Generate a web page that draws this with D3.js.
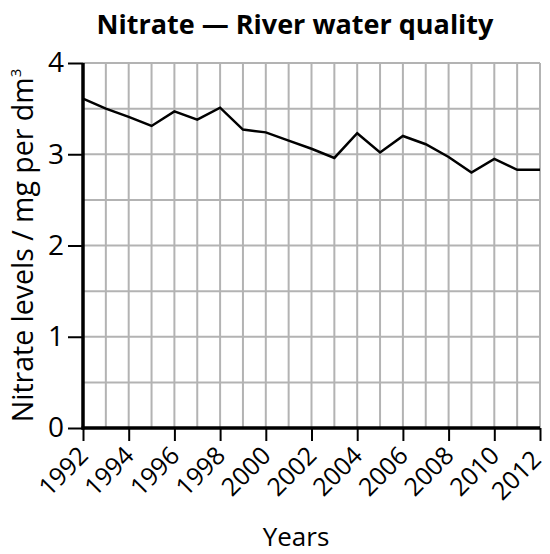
<!DOCTYPE html>
<html>
<head>
<meta charset="utf-8">
<script src="https://cdn.jsdelivr.net/npm/d3@7"></script>
<style>
  body { margin: 0; background: #fff; }
  svg { display: block; }
  text { font-family: "Open Sans", "Noto Sans", sans-serif; fill: #000; }
</style>
</head>
<body>
<svg id="chart" width="550" height="554"></svg>
<script>
const title = "Nitrate — River water quality";
const xLabel = "Years";
const yLabel = "Nitrate levels / mg per dm";
const years = [1992,1993,1994,1995,1996,1997,1998,1999,2000,2001,2002,2003,2004,2005,2006,2007,2008,2009,2010,2011,2012];
const nitrate = [3.61,3.50,3.41,3.31,3.47,3.38,3.51,3.27,3.24,3.15,3.06,2.96,3.23,3.02,3.20,3.11,2.97,2.80,2.95,2.83,2.83];
const yTicks = [0,1,2,3,4];
const yGrid = [0.5,1,1.5,2,2.5,3,3.5,4];
const xTicks = [1992,1994,1996,1998,2000,2002,2004,2006,2008,2010,2012];

const W = 550, H = 554;
const m = {left: 83, right: 10, top: 63, bottom: 126};
const svg = d3.select("#chart");

const x = d3.scaleLinear().domain([1992, 2012]).range([m.left, W - m.right]);
const y = d3.scaleLinear().domain([0, 4]).range([H - m.bottom, m.top]);

// grid
const grid = svg.append("g").attr("stroke", "#b3b3b3").attr("stroke-width", 2);
grid.selectAll("line.v").data(years.slice(1)).join("line")
  .attr("x1", d => x(d)).attr("x2", d => x(d))
  .attr("y1", y(0)).attr("y2", y(4));
grid.selectAll("line.h").data(yGrid).join("line")
  .attr("x1", x(1992)).attr("x2", x(2012))
  .attr("y1", d => y(d)).attr("y2", d => y(d));

// line
svg.append("path").datum(years.map((yr, i) => [yr, nitrate[i]]))
  .attr("fill", "none").attr("stroke", "#000").attr("stroke-width", 2.5)
  .attr("stroke-linejoin", "miter")
  .attr("d", d3.line().x(d => x(d[0])).y(d => y(d[1])));

// y axis
const yAxis = svg.append("g").attr("transform", `translate(${m.left},0)`)
  .call(d3.axisLeft(y).tickValues(yTicks).tickFormat(d3.format("d")).tickSize(15).tickPadding(4));
yAxis.select(".domain").remove();
yAxis.selectAll(".tick line").attr("stroke-width", 2);
yAxis.selectAll(".tick text").attr("font-size", 28).style("font-family", "'Open Sans', sans-serif");

// x axis
const xAxis = svg.append("g").attr("transform", `translate(0,${H - m.bottom})`)
  .call(d3.axisBottom(x).tickValues(xTicks).tickFormat(d3.format("d")).tickSize(13).tickPadding(2));
xAxis.select(".domain").remove();
xAxis.selectAll(".tick line").attr("stroke-width", 2);
xAxis.selectAll(".tick text")
  .attr("font-size", 25)
  .style("font-family", "'Open Sans', sans-serif")
  .attr("text-anchor", "end")
  .attr("x", 0).attr("y", 0)
  .attr("dy", "0.35em")
  .attr("transform", (d, i, n) => i === n.length - 1 ? "translate(-4,27) rotate(-45)" : "translate(0,23) rotate(-45)");

// axis lines
svg.append("line").attr("x1", x(1992)).attr("x2", x(1992)).attr("y1", y(4)).attr("y2", y(0) + 1.5)
  .attr("stroke", "#000").attr("stroke-width", 3.5);
svg.append("line").attr("x1", x(1992) - 1.5).attr("x2", x(2012)).attr("y1", y(0)).attr("y2", y(0))
  .attr("stroke", "#000").attr("stroke-width", 3.5);

// title
svg.append("text").attr("x", 295).attr("y", 34).attr("text-anchor", "middle")
  .attr("font-size", 27).attr("font-weight", "bold").text(title);

// x label
svg.append("text").attr("x", 296).attr("y", 546).attr("text-anchor", "middle")
  .attr("font-size", 26).text(xLabel);

// y label
const yl = svg.append("text")
  .attr("transform", `translate(33,${(y(0) + y(4)) / 2}) rotate(-90)`)
  .attr("text-anchor", "middle").attr("font-size", 28.5);
yl.append("tspan").text(yLabel);
yl.append("tspan").attr("font-size", 15).attr("dy", -12).text("3");
</script>
</body>
</html>
